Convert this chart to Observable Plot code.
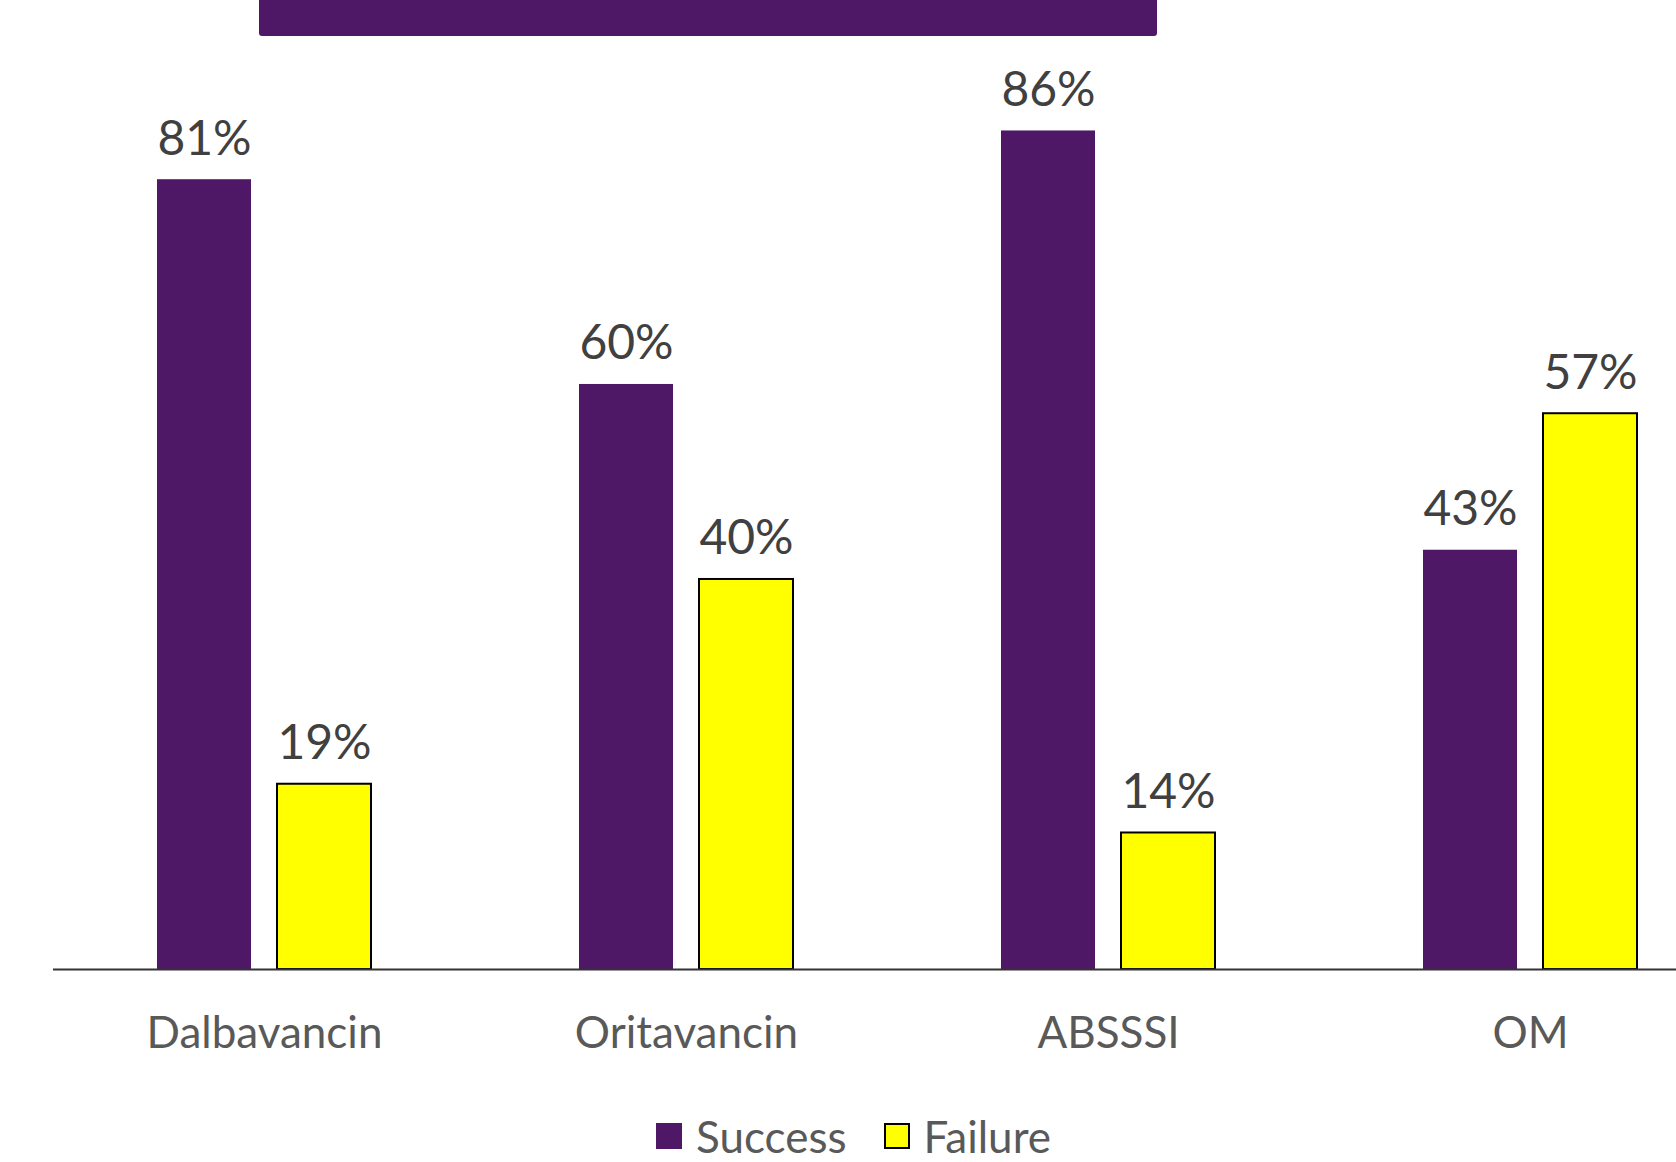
<!DOCTYPE html>
<html>
<head>
<meta charset="utf-8">
<script src="https://cdn.jsdelivr.net/npm/d3@7"></script>
<script src="https://cdn.jsdelivr.net/npm/@observablehq/plot@0.6"></script>
<style>
  html, body { margin: 0; padding: 0; background: #fff; overflow: hidden; width: 1676px; height: 1162px; }
  #wrap { position: relative; width: 1676px; height: 1162px; overflow: hidden; font-family: Lato, "Open Sans", sans-serif; }
  #banner { position: absolute; left: 259px; top: 0; width: 898px; height: 36px; background: #4E1867; border-radius: 0 0 3px 3px; }
  #chart { position: absolute; left: 0; top: 0; width: 1741px; }
  #chart svg { max-width: none !important; width: 1741px; height: 1090px; }
  #legend { position: absolute; left: 656px; top: 1114px; height: 44px; display: flex; align-items: center; font-size: 44px; line-height: 44px; color: #595959; }
  .sw { width: 26px; height: 26px; box-sizing: border-box; margin-right: 14px; }
  .item { display: flex; align-items: center; margin-right: 37px; }
</style>
</head>
<body>
<div id="wrap">
  <div id="chart"></div>
  <div id="banner"></div>
  <div id="legend"></div>
</div>
<script>
const categories = ["Dalbavancin", "Oritavancin", "ABSSSI", "OM"];
const seriesNames = ["Success", "Failure"];
const success = [81, 60, 86, 43];
const failure = [19, 40, 14, 57];
const seriesColors = ["#4E1867", "#FFFF00"];

const rows = [];
categories.forEach((c, i) => {
  rows.push({category: c, series: "Success", value: success[i]});
  rows.push({category: c, series: "Failure", value: failure[i]});
});

const chart = Plot.plot({
  width: 1741,
  height: 1090,
  marginLeft: 52,
  marginRight: 0,
  marginTop: 0,
  marginBottom: 121,
  style: {fontFamily: "Lato, 'Open Sans', sans-serif", fontSize: "44px", color: "#595959", background: "transparent", maxWidth: "none"},
  fx: {domain: categories, padding: 0, label: null, axis: null},
  x: {domain: seriesNames, paddingInner: 0.2149, paddingOuter: 0.852, axis: null},
  y: {domain: [0, 99.38], axis: null},
  marks: [
    Plot.barY(rows.filter(d => d.series === "Success"), {fx: "category", x: "series", y: "value", fill: seriesColors[0]}),
    Plot.barY(rows.filter(d => d.series === "Failure"), {fx: "category", x: "series", y: "value", fill: seriesColors[1], stroke: "#000", strokeWidth: 2}),
    Plot.ruleY([0], {stroke: "#333333", strokeWidth: 2}),
    Plot.text(rows, {fx: "category", x: "series", y: "value", text: d => d.value + "%", dy: -25, lineAnchor: "bottom", fill: "#404040", fontSize: 48, fontFamily: "Lato, 'Open Sans', sans-serif"}),
    Plot.axisFx({anchor: "bottom", tickSize: 0, tickPadding: 47, label: null, fontSize: 44})
  ]
});
document.getElementById("chart").appendChild(chart);

const legend = document.getElementById("legend");
seriesNames.forEach((s, i) => {
  const item = document.createElement("div");
  item.className = "item";
  const sw = document.createElement("div");
  sw.className = "sw";
  sw.style.background = seriesColors[i];
  if (i === 1) sw.style.border = "2px solid #000";
  const t = document.createElement("span");
  t.textContent = s;
  item.appendChild(sw);
  item.appendChild(t);
  legend.appendChild(item);
});
</script>
</body>
</html>
